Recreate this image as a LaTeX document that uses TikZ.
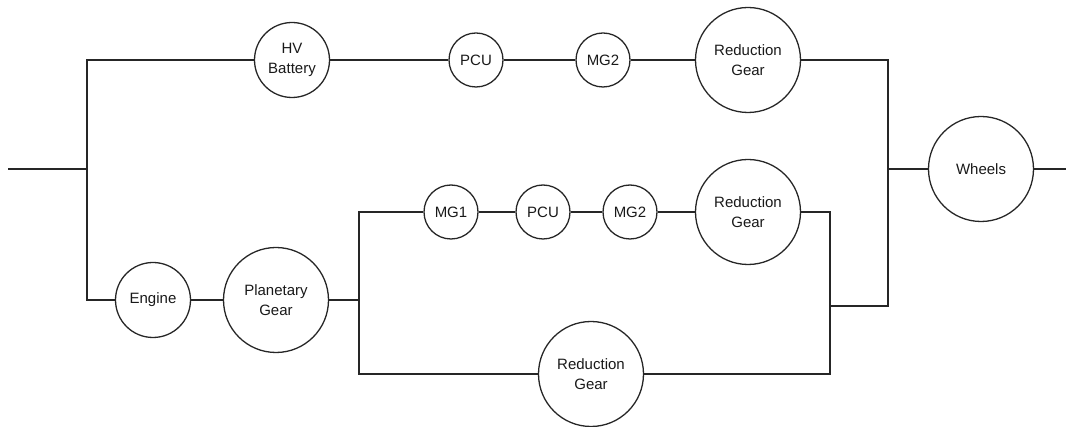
\documentclass[tikz,border=0pt]{standalone}
\usepackage{fontspec}
\setmainfont{Liberation Sans}
\begin{document}
\begin{tikzpicture}[x=1pt,y=-1pt,
  wire/.style={draw=black!85,line width=1.3pt},
  part/.style={circle,draw=black!85,line width=1.3pt,inner sep=0pt,align=center,
    font=\fontsize{15}{20}\selectfont,text=black!90},
  small/.style={part,minimum size=54pt},
  mid/.style={part,minimum size=75pt},
  big/.style={part,minimum size=105pt}]
\useasboundingbox (0,0) rectangle (1069,427);

% input and main split
\coordinate (in) at (8,169);
\coordinate (j1) at (87,169);

% electric path
\node[mid]   (hv)    at (292,60)  {HV\\Battery};
\node[small] (pcu1)  at (476,60)  {PCU};
\node[small] (mg2a)  at (603,60)  {MG2};
\node[big]   (rg1)   at (748,60)  {Reduction\\Gear};

% engine path
\node[mid]   (engine) at (153,300) {Engine};
\node[big]   (pg)     at (276,300) {Planetary\\Gear};
\coordinate (j3) at (359,300);

\node[small] (mg1)   at (451,212) {MG1};
\node[small] (pcu2)  at (543,212) {PCU};
\node[small] (mg2b)  at (630,212) {MG2};
\node[big]   (rg2)   at (748,212) {Reduction\\Gear};
\node[big]   (rg3)   at (591,374) {Reduction\\Gear};
\coordinate (j4) at (830,306);

% output
\coordinate (j2) at (888,169);
\node[big]   (wheels) at (981,169) {Wheels};
\coordinate (out) at (1066,169);

% connectors
\draw[wire] (in) -- (j1);
\draw[wire] (j1) |- (hv);
\draw[wire] (j1) |- (engine);
\draw[wire] (hv) -- (pcu1) -- (mg2a) -- (rg1);
\draw[wire] (rg1) -| (j2);
\draw[wire] (j2) -- (wheels) -- (out);
\draw[wire] (engine) -- (pg) -- (j3);
\draw[wire] (j3) |- (mg1);
\draw[wire] (j3) |- (rg3);
\draw[wire] (mg1) -- (pcu2) -- (mg2b) -- (rg2);
\draw[wire] (rg2) -| (j4);
\draw[wire] (rg3) -| (j4);
\draw[wire] (j4) -| (j2);
\end{tikzpicture}
\end{document}
